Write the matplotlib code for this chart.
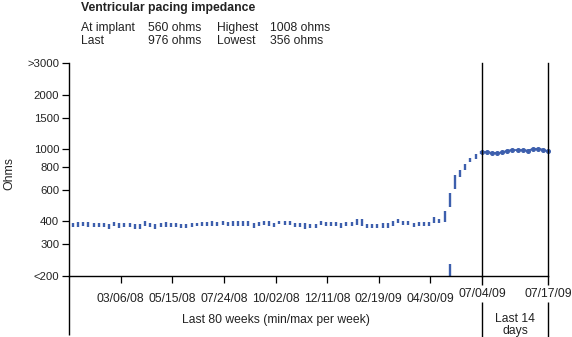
import matplotlib
matplotlib.use("Agg")
import matplotlib.pyplot as plt
import numpy as np

plt.rcParams['font.family'] = ['Liberation Sans', 'DejaVu Sans']

# ---- data ----
weekly_min = [372, 375, 377, 375, 371, 374, 372, 365, 377, 368,
              372, 371, 365, 363, 379, 371, 363, 374, 375, 374,
              371, 366, 368, 371, 377, 377, 379, 380, 379, 382,
              379, 380, 380, 380, 377, 368, 377, 382, 380, 372,
              385, 382, 382, 374, 372, 365, 368, 368, 384, 379,
              379, 377, 368, 379, 377, 384, 379, 368, 368, 368,
              368, 368, 377, 390, 384, 384, 372, 377, 377, 377,
              392, 392, 397, 478, 601, 700, 765, 848, 880, 938]
weekly_max = [392, 395, 397, 395, 390, 393, 392, 387, 397, 390,
              392, 390, 385, 385, 403, 392, 385, 393, 395, 393,
              390, 385, 387, 390, 390, 397, 398, 400, 398, 405,
              398, 400, 400, 403, 400, 390, 397, 401, 400, 392,
              405, 401, 401, 393, 392, 390, 388, 388, 403, 398,
              398, 397, 393, 398, 397, 411, 411, 388, 388, 387,
              392, 392, 403, 411, 405, 403, 392, 397, 397, 397,
              421, 414, 458, 578, 718, 765, 826, 892, 938, 975]
low_week = [73]
low_min = [200]
low_max = [234]

daily = [965, 968, 955, 955, 962, 985, 992, 992, 992, 985, 1005, 1008, 998, 976]

week_ticks = [10, 20, 30, 40, 50, 60, 70, 80]
week_labels = ['03/06/08', '05/15/08', '07/24/08', '10/02/08', '12/11/08',
               '02/19/09', '04/30/09', '07/04/09']
y_ticks = [200, 300, 400, 600, 800, 1000, 1500, 2000, 3000]
y_labels = ['<200', '300', '400', '600', '800', '1000', '1500', '2000', '>3000']

stats_rows = [['At implant', '560 ohms', 'Highest', '1008 ohms'],
              ['Last', '976 ohms', 'Lowest', '356 ohms']]

# ---- layout ----
W, H = 572, 337
fig = plt.figure(figsize=(W / 100, H / 100), dpi=100)
blue = '#3d5fad'
txt = '#222222'

def fx(px):
    return px / W

def fy(py):
    return 1 - py / H

x0, x1, x2 = 69, 482, 548
ytop, ybot = 63, 276
ax1 = fig.add_axes([fx(x0), fy(ybot), (x1 - x0) / W, (ybot - ytop) / H])
ax2 = fig.add_axes([fx(x1), fy(ybot), (x2 - x1) / W, (ybot - ytop) / H], sharey=ax1)

for ax in (ax1, ax2):
    ax.set_yscale('log')
    ax.set_ylim(200, 3000)
    ax.spines['top'].set_visible(False)
    for s in ax.spines.values():
        s.set_linewidth(1.0)

ax1.spines['right'].set_visible(False)
ax1.set_yticks(y_ticks)
ax1.set_yticklabels(y_labels, fontsize=8.2, color=txt)
ax1.yaxis.set_minor_locator(matplotlib.ticker.NullLocator())
ax1.tick_params(axis='y', length=5, width=0.9, pad=2)

ax1.set_xlim(0, 80)
ax1.set_xticks(week_ticks[:-1])
ax1.set_xticklabels(week_labels[:-1], fontsize=8.7, color=txt)
ax1.tick_params(axis='x', length=5, width=0.9, pad=7)

ax2.set_xlim(0, len(daily) - 1)
ax2.set_xticks([])
ax2.tick_params(axis='y', left=False, labelleft=False)
ax2.yaxis.set_minor_locator(matplotlib.ticker.NullLocator())

# weekly min/max bars
xw = np.arange(len(weekly_min)) + 0.75
ax1.vlines(xw, weekly_min, weekly_max, color=blue, linewidth=1.7)
ax1.vlines(np.array(low_week) + 0.75, low_min, low_max, color=blue, linewidth=1.7)

# last 14 days
xd = np.arange(len(daily))
ax2.plot(xd, daily, color=blue, linewidth=1.3, marker='o', markersize=2.6, clip_on=False)

# separator lines extending below axes
def ext(ax, xa, segs):
    for a, b in segs:
        ax.plot([xa, xa], [a, b], transform=ax.transAxes, color='black',
                linewidth=1.0, clip_on=False, solid_capstyle='butt')

h = ybot - ytop
def af(py):
    return (ybot - py) / h

ext(ax1, 0, [(0, af(335))])
ext(ax2, 0, [(0, af(285)), (af(302), af(337))])
ext(ax2, 1, [(0, af(285)), (af(302), af(337))])

# y label
fig.text(fx(9), fy(173), 'Ohms', fontsize=8.8, rotation=90, ha='center', va='center', color=txt)

# date labels at boundaries
fig.text(fx(x1), fy(294), week_labels[-1], fontsize=8.7, ha='center', va='center', color=txt)
fig.text(fx(x2), fy(294), '07/17/09', fontsize=8.7, ha='center', va='center', color=txt)

fig.text(fx((x0 + x1) / 2), fy(320), 'Last 80 weeks (min/max per week)', fontsize=8.7,
         ha='center', va='center', color=txt)
fig.text(fx((x1 + x2) / 2), fy(325), 'Last 14\ndays', fontsize=8.7,
         ha='center', va='center', color=txt, linespacing=1.1)

# header
fig.text(fx(81), fy(8), 'Ventricular pacing impedance', fontsize=8.8, fontweight='bold',
         ha='left', va='center', color=txt)
cols = [81, 148, 217, 270]
rows_y = [28, 41]
for ry, row in zip(rows_y, stats_rows):
    for cx, t in zip(cols, row):
        fig.text(fx(cx), fy(ry), t, fontsize=8.7, ha='left', va='center', color=txt)

fig.savefig('out.png', dpi=100)
